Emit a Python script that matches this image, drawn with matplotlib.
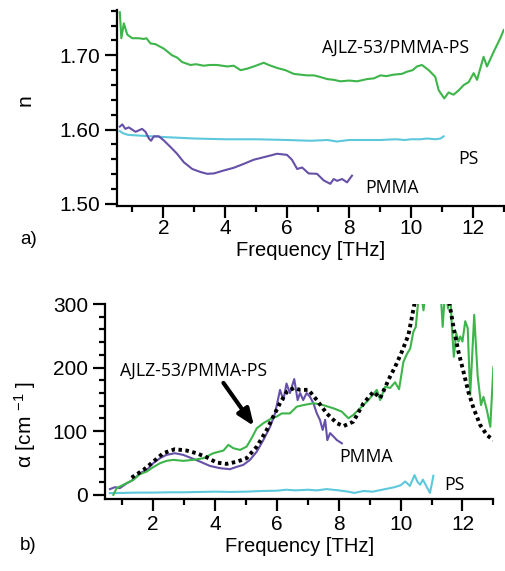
import matplotlib
matplotlib.use("Agg")
import matplotlib.pyplot as plt
import numpy as np

plt.rcParams['font.family'] = ['Liberation Sans', 'DejaVu Sans']
plt.rcParams['mathtext.fontset'] = 'custom'
plt.rcParams['mathtext.rm'] = 'Liberation Sans'
plt.rcParams['mathtext.it'] = 'Liberation Sans:italic'

GREEN = '#3DB54A'
CYAN = '#5DC8DC'
PURPLE = '#6650A8'

# ---------------- panel a) refractive index ----------------
n_comp_f = [0.59, 0.64, 0.72, 0.83, 0.99, 1.20, 1.37, 1.45, 1.58, 1.74, 2.01, 2.28, 2.44,
            2.60, 2.87, 3.05, 3.30, 3.50, 3.73, 4.06, 4.27, 4.49, 4.70, 4.92, 5.24, 5.40,
            5.67, 5.94, 6.21, 6.42, 6.64, 6.86, 7.05, 7.29, 7.50, 7.72, 8.00, 8.25, 8.58,
            8.80, 9.01, 9.20, 9.44, 9.70, 9.87, 10.05, 10.19, 10.35, 10.57, 10.78, 10.89,
            11.07, 11.21, 11.37, 11.54, 11.70, 11.86, 12.02, 12.13, 12.34, 12.45, 12.67,
            12.88, 12.99]
n_comp = [1.758, 1.723, 1.743, 1.728, 1.723, 1.723, 1.722, 1.723, 1.716, 1.715, 1.709,
          1.700, 1.697, 1.691, 1.687, 1.688, 1.686, 1.687, 1.687, 1.685, 1.686, 1.680,
          1.682, 1.685, 1.690, 1.687, 1.683, 1.680, 1.675, 1.674, 1.673, 1.673, 1.671,
          1.668, 1.667, 1.665, 1.666, 1.665, 1.668, 1.669, 1.673, 1.672, 1.674, 1.675,
          1.678, 1.680, 1.685, 1.687, 1.680, 1.671, 1.653, 1.642, 1.650, 1.647, 1.653,
          1.660, 1.664, 1.676, 1.667, 1.698, 1.685, 1.705, 1.723, 1.734]

n_ps_f = [0.59, 0.70, 0.85, 1.20, 1.60, 2.00, 2.50, 3.00, 4.00, 5.00, 6.00, 6.75, 7.30,
          7.60, 8.00, 8.50, 9.00, 9.50, 9.80, 10.00, 10.30, 10.50, 10.80, 10.95, 11.05]
n_ps = [1.598, 1.595, 1.593, 1.592, 1.591, 1.590, 1.589, 1.588, 1.587, 1.587, 1.586,
        1.585, 1.586, 1.584, 1.586, 1.586, 1.586, 1.587, 1.586, 1.587, 1.587, 1.588,
        1.587, 1.588, 1.591]

n_pmma_f = [0.59, 0.67, 0.77, 0.88, 1.10, 1.31, 1.42, 1.53, 1.60, 1.69, 1.85, 2.01, 2.23,
            2.44, 2.66, 2.93, 3.19, 3.41, 3.63, 3.95, 4.27, 4.60, 4.92, 5.35, 5.67, 5.99,
            6.15, 6.32, 6.48, 6.69, 6.96, 7.18, 7.39, 7.50, 7.61, 7.77, 7.93, 8.09]
n_pmma = [1.604, 1.607, 1.601, 1.603, 1.597, 1.601, 1.597, 1.588, 1.585, 1.591, 1.591,
          1.5855, 1.5765, 1.5675, 1.556, 1.547, 1.543, 1.5405, 1.541, 1.545, 1.5486,
          1.554, 1.5595, 1.564, 1.5675, 1.566, 1.5595, 1.547, 1.549, 1.541, 1.5405,
          1.5315, 1.527, 1.5335, 1.531, 1.5335, 1.529, 1.538]

# ---------------- panel b) absorption ----------------
a_comp_f = [0.71, 0.82, 1.03, 1.35, 1.57, 1.79, 2.00, 2.22, 2.43, 2.65, 2.97, 3.29, 3.62,
            3.94, 4.27, 4.43, 4.59, 4.81, 5.02, 5.18, 5.35, 5.56, 5.78, 5.99, 6.16, 6.42,
            6.64, 6.85, 7.18, 7.50, 7.83, 8.10, 8.31, 8.47, 8.69, 8.96, 9.23, 9.34, 9.50,
            9.66, 9.82, 9.95, 10.09, 10.20, 10.31, 10.41, 10.49, 10.62, 10.74, 10.90,
            11.10, 11.27, 11.36, 11.45, 11.53, 11.60, 11.66, 11.72, 11.80, 11.87, 11.93,
            12.00, 12.09, 12.17, 12.25, 12.38, 12.49, 12.60, 12.68, 12.79, 12.90, 13.00]
a_comp = [0, 10.5, 15.7, 23.5, 32.5, 36.6, 43.5, 49.7, 53.4, 55, 53.4, 55, 57.6, 65.4,
          69.6, 78.5, 73.3, 70.6, 75.8, 89, 104.7, 112.6, 118.8, 123, 128, 128, 138.6,
          141, 144, 141, 136, 130.8, 120.4, 125.6, 136, 149, 165, 149, 170, 168, 177,
          166, 209, 221, 230, 256, 264, 330, 290, 360, 380, 340, 264, 330, 293, 320, 262,
          217, 254, 241, 249, 241, 273, 262, 157, 283, 188, 141, 154, 133, 107, 201]

a_fit_f = [1.30, 1.68, 2.00, 2.32, 2.70, 3.08, 3.40, 3.73, 4.05, 4.37, 4.70, 5.02, 5.35,
           5.67, 5.88, 6.10, 6.32, 6.55, 6.75, 7.02, 7.29, 7.61, 7.94, 8.15, 8.47, 8.80,
           9.12, 9.34, 9.66, 9.82, 10.04, 10.25, 10.38, 10.60, 11.00, 11.40, 11.58, 11.71,
           11.87, 12.03, 12.19, 12.36, 12.57, 12.79, 13.00]
a_fit = [27, 39, 52, 65.4, 71.7, 69.6, 65.4, 59, 50.7, 48.7, 52, 57.6, 75.8, 102, 123,
         144, 162, 168, 165, 165, 149, 128, 112.6, 108, 115, 144, 162, 152, 186, 201, 225,
         251, 283, 340, 400, 340, 300, 264, 225, 194, 162, 136, 110, 94, 86]

a_pmma_f = [0.60, 0.76, 0.92, 1.14, 1.35, 1.57, 1.79, 2.00, 2.22, 2.43, 2.70, 2.97, 3.24,
            3.51, 3.83, 4.16, 4.48, 4.70, 4.91, 5.13, 5.35, 5.56, 5.78, 5.94, 6.10, 6.21,
            6.31, 6.42, 6.56, 6.67, 6.75, 6.85, 6.96, 7.07, 7.18, 7.29, 7.39, 7.48, 7.56,
            7.63, 7.72, 7.83, 7.94, 8.10]
a_pmma = [9, 12, 10.5, 18, 23.5, 34, 39, 49.7, 57.6, 62.8, 65.4, 62.8, 57.6, 52.3, 45.5,
          41.9, 40.3, 44, 47, 55, 68, 86, 107, 128, 165, 149, 175, 160, 182, 149, 160, 149,
          160, 154, 144, 128, 118, 102, 118, 86, 97, 91.6, 86, 81]

a_ps_f = [0.60, 1.0, 1.5, 2.0, 2.5, 3.0, 3.5, 4.0, 4.5, 5.0, 5.5, 6.0, 6.3, 6.6, 7.0, 7.3,
          7.6, 8.0, 8.3, 8.5, 8.8, 9.1, 9.4, 9.6, 9.8, 10.0, 10.15, 10.3, 10.45, 10.55,
          10.63, 10.72, 10.85, 10.95, 11.06]
a_ps = [2.6, 3, 3.5, 3.5, 4, 4, 4.5, 5, 4.5, 5, 6, 6.5, 8, 7, 8, 7, 9, 7, 5, 3, 6, 5, 8,
        10, 12, 15, 21, 14, 31, 20, 16, 24, 12, 3, 30]

fig = plt.figure(figsize=(5.05, 5.71), dpi=100)
ax1 = fig.add_axes([0.2317, 0.639, 0.7663, 0.3435])
ax2 = fig.add_axes([0.2085, 0.1256, 0.7685, 0.342])

LW = 1.5
ax1.plot(n_comp_f, n_comp, color=GREEN, lw=LW)
ax1.plot(n_ps_f, n_ps, color=CYAN, lw=LW)
ax1.plot(n_pmma_f, n_pmma, color=PURPLE, lw=LW)
ax1.set_xlim(0.5, 13)
ax1.set_ylim(1.497, 1.761)
ax1.set_yticks([1.50, 1.60, 1.70])
ax1.set_yticklabels(['1.50', '1.60', '1.70'])
ax1.set_yticks(np.arange(1.50, 1.761, 0.02), minor=True)

ax2.plot(a_ps_f, a_ps, color=CYAN, lw=LW)
ax2.plot(a_pmma_f, a_pmma, color=PURPLE, lw=LW)
ax2.plot(a_comp_f, a_comp, color=GREEN, lw=LW)
ax2.plot(a_fit_f, a_fit, color='black', lw=2.8, linestyle=(0, (0.9, 0.9)))
ax2.set_xlim(0.45, 13)
ax2.set_ylim(-7, 300)
ax2.set_yticks([0, 100, 200, 300])
ax2.set_yticks(np.arange(0, 301, 20), minor=True)

for ax in (ax1, ax2):
    ax.set_xticks([2, 4, 6, 8, 10, 12])
    ax.set_xticks([1, 3, 5, 7, 9, 11, 13], minor=True)
    for s in ('top', 'right'):
        ax.spines[s].set_visible(False)
    for s in ('left', 'bottom'):
        ax.spines[s].set_linewidth(1.6)
    ax.tick_params(which='major', direction='out', length=8.5, width=1.6, labelsize=15)
    ax.tick_params(which='minor', direction='out', length=4, width=1.6)
    ax.tick_params(axis='y', which='major', pad=4)
    ax.set_xlabel('Frequency [THz]', fontsize=14.5, labelpad=2)

ax1.tick_params(axis='x', which='major', pad=1)
ax2.tick_params(axis='x', which='major', pad=3)

fig.text(0.05, 0.825, 'n', rotation=90, fontsize=15, ha='center', va='center')
fig.text(0.05, 0.257, 'α [cm $^{\\mathregular{-1}}$ ]', rotation=90, fontsize=15,
         ha='center', va='center')
fig.text(0.04, 0.58, 'a)', fontsize=13.5, ha='left', va='center')
fig.text(0.04, 0.045, 'b)', fontsize=13.5, ha='left', va='center')

ann = dict(fontsize=12.7, family=['Open Sans', 'DejaVu Sans'], ha='center', va='center')
ax1.text(9.49, 1.7095, 'AJLZ-53/PMMA-PS', **ann)
ax1.text(11.85, 1.560, 'PS', **ann)
ax1.text(9.38, 1.522, 'PMMA', **ann)
ax2.text(3.30, 195, 'AJLZ-53/PMMA-PS', **ann)
ax2.text(8.87, 60, 'PMMA', **ann)
ax2.text(11.73, 15.7, 'PS', **ann)
ax2.annotate('', xy=(5.26, 108), xytext=(4.27, 176),
             arrowprops=dict(arrowstyle='-|>,head_length=1.0,head_width=0.4',
                             color='black', lw=3, shrinkA=0, shrinkB=0))

fig.savefig('out.png', dpi=100)
